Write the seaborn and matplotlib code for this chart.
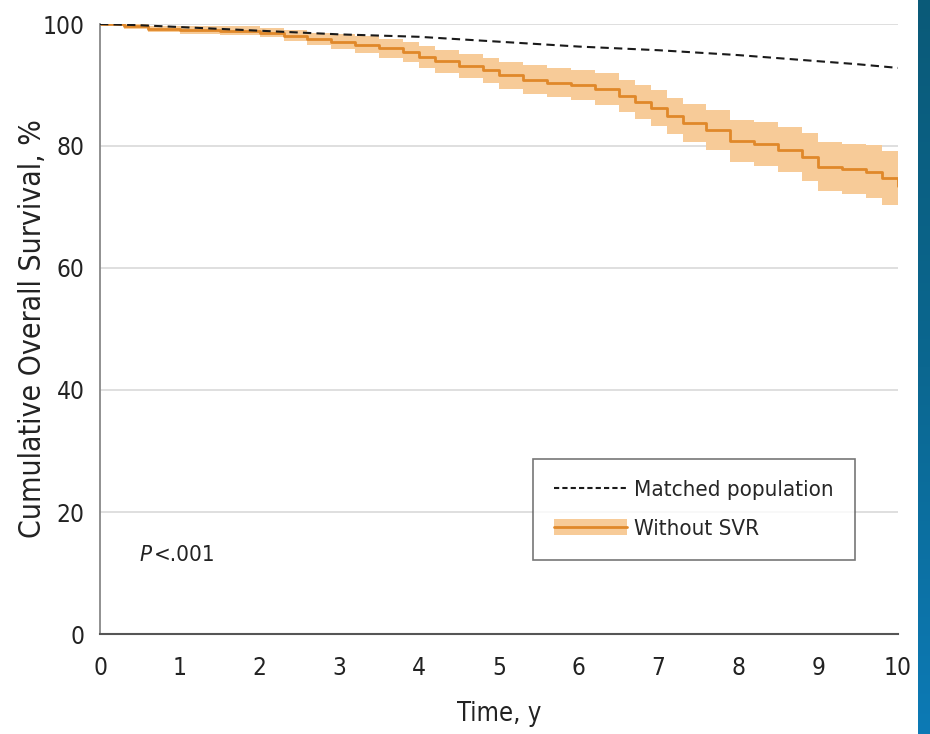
import numpy as np
import pandas as pd
import matplotlib.pyplot as plt
import seaborn as sns
from matplotlib.lines import Line2D
from matplotlib.patches import Patch
from matplotlib.colors import LinearSegmentedColormap
from matplotlib import font_manager

# Kaplan-Meier style curves
t_svr = [0, 0.3, 0.6, 1.0, 1.5, 2.0, 2.3, 2.6, 2.9, 3.2, 3.5, 3.8, 4.0, 4.2, 4.5, 4.8,
         5.0, 5.3, 5.6, 5.9, 6.2, 6.5, 6.7, 6.9, 7.1, 7.3, 7.6, 7.9, 8.2, 8.5, 8.8,
         9.0, 9.3, 9.6, 9.8, 10.0]
surv_svr = [100, 99.6, 99.2, 99.0, 98.9, 98.6, 98.1, 97.6, 97.1, 96.6, 96.0, 95.4, 94.6,
            93.9, 93.1, 92.4, 91.6, 90.9, 90.4, 90.0, 89.3, 88.2, 87.2, 86.2, 84.9, 83.8,
            82.6, 80.8, 80.3, 79.4, 78.2, 76.6, 76.3, 75.8, 74.8, 73.5]
low_svr = [100, 99.2, 98.7, 98.4, 98.2, 97.8, 97.2, 96.6, 95.9, 95.2, 94.5, 93.7, 92.8,
           92.0, 91.1, 90.3, 89.4, 88.6, 88.0, 87.5, 86.7, 85.5, 84.4, 83.3, 81.9, 80.7,
           79.3, 77.3, 76.7, 75.7, 74.3, 72.6, 72.2, 71.5, 70.4, 69.0]
high_svr = [100, 100, 99.7, 99.6, 99.6, 99.4, 99.0, 98.6, 98.3, 98.0, 97.5, 97.1, 96.4,
            95.8, 95.1, 94.5, 93.8, 93.2, 92.8, 92.5, 91.9, 90.9, 90.0, 89.1, 87.9, 86.9,
            85.9, 84.3, 83.9, 83.1, 82.1, 80.6, 80.4, 80.1, 79.2, 78.0]

t_pop = [0, 0.5, 1, 1.5, 2, 2.5, 3, 3.5, 4, 4.5, 5, 5.5, 6, 6.5, 7, 7.5, 8, 8.5, 9, 9.5, 10]
surv_pop = [100, 99.8, 99.5, 99.2, 98.9, 98.6, 98.3, 98.1, 97.9, 97.5, 97.1, 96.7, 96.3,
            96.0, 95.7, 95.3, 94.9, 94.4, 93.9, 93.4, 92.8]

x_ticks = list(range(0, 11))
y_ticks = [0, 20, 40, 60, 80, 100]

orange = "#E0882A"
band = "#F7CB98"

sns.set_style("white")
names = {f.name for f in font_manager.fontManager.ttflist}
narrow = [n for n in ["Liberation Sans Narrow", "DejaVu Sans Condensed"] if n in names]
plt.rcParams["font.family"] = narrow + ["DejaVu Sans"]
plt.rcParams["font.stretch"] = "condensed"
k = 1.0 if narrow else 0.8

fig = plt.figure(figsize=(9.3, 7.34), dpi=100)
ax = fig.add_axes([100 / 930, 100 / 734, 798 / 930, 610 / 734])

for y in y_ticks[1:]:
    ax.axhline(y, color="#d9d9d9", lw=1.2, zorder=0)

df_svr = pd.DataFrame({"t": t_svr, "s": surv_svr})
df_pop = pd.DataFrame({"t": t_pop, "s": surv_pop})

ax.fill_between(t_svr, low_svr, high_svr, step="post", color=band, lw=0, zorder=1)
sns.lineplot(data=df_svr, x="t", y="s", ax=ax, color=orange, lw=2,
             drawstyle="steps-post", zorder=2)
sns.lineplot(data=df_pop, x="t", y="s", ax=ax, color="#1a1a1a", lw=1.5, zorder=3)
ax.lines[-1].set_dashes([4, 2.5])

ax.set_xlim(0, 10)
ax.set_ylim(0, 100)
ax.set_xticks(x_ticks)
ax.set_yticks(y_ticks)
ax.tick_params(axis="both", labelsize=22 * k, labelcolor="#222222", length=8, width=1.2,
               direction="out", color="#777777")
ax.tick_params(axis="x", pad=8)
ax.tick_params(axis="y", pad=3)
for sp in ["top", "right"]:
    ax.spines[sp].set_visible(False)
ax.spines["left"].set_color("#888888")
ax.spines["bottom"].set_color("#555555")
ax.spines["left"].set_linewidth(1.3)
ax.spines["bottom"].set_linewidth(1.5)

ax.set_xlabel("Time, y", fontsize=23 * k, color="#222222", labelpad=15)
ax.set_ylabel("Cumulative Overall Survival, %", fontsize=27 * k, color="#222222",
              labelpad=-3)

ax.text(0.5, 13, "P", fontsize=20 * k, style="italic", color="#222222", va="center")
ax.text(0.67, 13, "<.001", fontsize=20 * k, color="#222222", va="center")

handles = [
    Line2D([], [], color="#1a1a1a", lw=1.5, dashes=[2.5, 1.5]),
    (Patch(facecolor=band, edgecolor="none"), Line2D([], [], color=orange, lw=2)),
]
leg = ax.legend(handles, ["Matched population", "Without SVR"], loc="lower left",
                bbox_to_anchor=(433 / 798, 74 / 610), fontsize=20 * k, frameon=True,
                fancybox=False, handlelength=3.3, borderpad=0.95, labelspacing=0.85,
                handletextpad=0.3, borderaxespad=0)
leg.get_frame().set_edgecolor("#555555")
leg.get_frame().set_linewidth(1.2)

# blue strip on the right edge
bar = fig.add_axes([918 / 930, 0, 12 / 930, 1])
grad = np.linspace(0, 1, 256).reshape(-1, 1)
cmap = LinearSegmentedColormap.from_list("strip", ["#0a5a78", "#0b6790", "#0d7ab5"])
bar.imshow(grad, aspect="auto", cmap=cmap)
bar.axis("off")

fig.savefig("out.png", dpi=100)
